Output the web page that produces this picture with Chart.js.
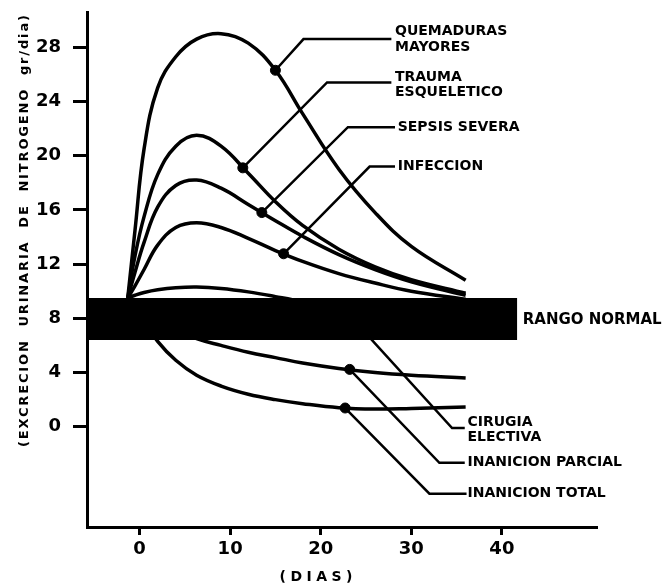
<!DOCTYPE html>
<html>
<head>
<meta charset="utf-8">
<script src="https://cdn.jsdelivr.net/npm/chart.js@4"></script>
<style>
  html, body { margin: 0; padding: 0; background: #fff; }
  #caja { width: 662px; height: 586px; position: relative; }
</style>
</head>
<body>
<div id="caja"><canvas id="grafica"></canvas></div>
<script>
// Datos (dias vs gr/dia)
const dias = [-1.3, -0.5, 0.5, 2, 4, 6.3, 9, 12, 15, 18, 22, 26, 30, 36];
const quemaduras = [9.5, 14.5, 20.5, 25.0, 27.3, 28.6, 29.0, 28.3, 26.3, 23.1, 19.0, 15.8, 13.3, 10.8];
const trauma = [9.5, 12.6, 15.5, 18.6, 20.7, 21.5, 20.7, 18.7, 16.6, 14.85, 13.1, 11.8, 10.85, 9.85];
const sepsis = [9.5, 11.4, 13.6, 16.2, 17.8, 18.2, 17.6, 16.4, 15.2, 14.05, 12.7, 11.6, 10.7, 9.7];
const infeccion = [9.5, 10.4, 11.6, 13.4, 14.7, 15.05, 14.7, 13.9, 13.0, 12.2, 11.3, 10.6, 10.0, 9.4];
const cirugia = [9.5, 9.7, 9.9, 10.1, 10.25, 10.3, 10.2, 9.95, 9.6, 9.2, 8.5, 7.9, 7.6, 7.4];
const inanicionParcial = [9.5, 9.2, 8.7, 8.0, 7.2, 6.5, 6.0, 5.5, 5.1, 4.7, 4.3, 4.0, 3.8, 3.6];
const inanicionTotal = [9.5, 8.8, 7.8, 6.3, 4.9, 3.8, 3.0, 2.4, 2.0, 1.7, 1.4, 1.3, 1.35, 1.45];

// Puntos marcados sobre cada curva
const marcadoresDias = [15.0, 11.4, 13.5, 15.9, 23.0, 23.2, 22.7];
const marcadoresValores = [26.3, 19.1, 15.8, 12.76, 8.35, 4.23, 1.38];

// Rango normal
const bandaDias = [-5.8, 41.7];
const bandaSup = 9.5;
const bandaInf = 6.4;

const ticksY = [0, 4, 8, 12, 16, 20, 24, 28];
const ticksX = [0, 10, 20, 30, 40];

// Lineas guia hacia las etiquetas (marcador -> codo -> texto)
const guias = [
    [[15.0, 26.3], [18.1, 28.6], [27.8, 28.6]],
    [[11.4, 19.1], [20.7, 25.4], [27.8, 25.4]],
    [[13.5, 15.8], [23.0, 22.1], [28.2, 22.1]],
    [[15.9, 12.76], [25.4, 19.2], [28.2, 19.2]],
    [[23.0, 8.35], [34.5, -0.1], [35.9, -0.1]],
    [[23.2, 4.23], [33.1, -2.66], [35.9, -2.66]],
    [[22.7, 1.38], [32.0, -4.94], [36.1, -4.94]],
];

const etiquetas = [
    { texto: ["QUEMADURAS", "MAYORES"], dia: 28.2, valor: 28.6 },
    { texto: ["TRAUMA", "ESQUELETICO"], dia: 28.2, valor: 25.25 },
    { texto: ["SEPSIS SEVERA"], dia: 28.5, valor: 22.1 },
    { texto: ["INFECCION"], dia: 28.5, valor: 19.2 },
    { texto: ["RANGO NORMAL"], dia: 42.3, valor: 7.9 },
    { texto: ["CIRUGIA", "ELECTIVA"], dia: 36.2, valor: -0.22 },
    { texto: ["INANICION PARCIAL"], dia: 36.2, valor: -2.66 },
    { texto: ["INANICION TOTAL"], dia: 36.2, valor: -4.94 },
];

const series = [quemaduras, trauma, sepsis, infeccion, cirugia, inanicionParcial, inanicionTotal];

const datasets = [];

// banda negra (encima de las curvas)
datasets.push({
    data: bandaDias.map((d) => ({ x: d, y: bandaSup })),
    borderWidth: 0,
    pointRadius: 0,
    backgroundColor: "#000",
    fill: { value: bandaInf },
    order: 0,
});

series.forEach((serie) => {
    datasets.push({
        data: dias.map((d, i) => ({ x: d, y: serie[i] })),
        borderColor: "#000",
        borderWidth: 3.5,
        pointRadius: 0,
        tension: 0.4,
        fill: false,
        order: 2,
    });
});

guias.forEach((g) => {
    datasets.push({
        data: g.map((p) => ({ x: p[0], y: p[1] })),
        borderColor: "#000",
        borderWidth: 2.5,
        pointRadius: 0,
        tension: 0,
        fill: false,
        order: 1,
    });
});

datasets.push({
    data: marcadoresDias.map((d, i) => ({ x: d, y: marcadoresValores[i] })),
    showLine: false,
    pointRadius: 5,
    pointBackgroundColor: "#000",
    pointBorderColor: "#000",
    order: 1,
});

// Texto con espaciado para que ocupe un ancho dado
function textoEspaciado(ctx, texto, ancho) {
    ctx.letterSpacing = "0px";
    const natural = ctx.measureText(texto).width;
    const extra = (ancho - natural) / (texto.length - 1);
    ctx.letterSpacing = extra + "px";
    ctx.fillText(texto, -ancho / 2, 0);
    ctx.letterSpacing = "0px";
}

const pluginTextos = {
    id: "textos",
    afterDraw(chart) {
        const ctx = chart.ctx;
        const sx = chart.scales.x;
        const sy = chart.scales.y;
        ctx.save();
        ctx.fillStyle = "#000";
        ctx.textBaseline = "middle";
        ctx.textAlign = "left";
        etiquetas.forEach((e) => {
            const px = sx.getPixelForValue(e.dia);
            const py = sy.getPixelForValue(e.valor);
            ctx.font = e.texto[0] === "RANGO NORMAL" ? 'bold 15px "DejaVu Sans"' : 'bold 14px "DejaVu Sans"';
            if (e.texto.length === 1) {
                ctx.fillText(e.texto[0], px, py);
            } else {
                ctx.fillText(e.texto[0], px, py - 7.5);
                ctx.fillText(e.texto[1], px, py + 8);
            }
        });

        // titulos de los ejes
        ctx.font = 'bold 13px "DejaVu Sans"';
        ctx.save();
        ctx.translate(25, 231);
        ctx.rotate(-Math.PI / 2);
        textoEspaciado(ctx, "(EXCRECION  URINARIA  DE  NITROGENO  gr/dia)", 432);
        ctx.restore();

        ctx.font = 'bold 14px "DejaVu Sans"';
        ctx.save();
        ctx.translate(316, 577);
        textoEspaciado(ctx, "(DIAS)", 73);
        ctx.restore();
        ctx.restore();
    },
};

new Chart(document.getElementById("grafica"), {
    type: "line",
    data: { datasets },
    options: {
        responsive: true,
        maintainAspectRatio: false,
        animation: false,
        layout: { padding: { top: 12, right: 65, left: 0, bottom: 0 } },
        plugins: { legend: { display: false }, tooltip: { enabled: false } },
        scales: {
            x: {
                type: "linear",
                min: -5.8,
                max: 50.5,
                afterBuildTicks: (scale) => {
                    scale.ticks = ticksX.map((v) => ({ value: v }));
                },
                afterFit: (scale) => {
                    scale.height = 59;
                    scale.paddingLeft = 0;
                    scale.paddingRight = 0;
                },
                grid: {
                    drawOnChartArea: false,
                    drawTicks: true,
                    tickLength: 8,
                    tickWidth: 3,
                    tickColor: "#000",
                },
                border: { display: true, width: 3, color: "#000" },
                ticks: {
                    color: "#000",
                    padding: 4,
                    maxRotation: 0,
                    font: { family: "DejaVu Sans", weight: "bold", size: 18 },
                },
            },
            y: {
                min: -7.4,
                max: 30.6,
                afterBuildTicks: (scale) => {
                    scale.ticks = ticksY.map((v) => ({ value: v }));
                },
                afterFit: (scale) => {
                    scale.width = 87;
                    scale.paddingTop = 0;
                    scale.paddingBottom = 0;
                },
                grid: {
                    drawOnChartArea: false,
                    drawTicks: true,
                    tickLength: 14,
                    tickWidth: 3,
                    tickColor: "#000",
                },
                border: { display: true, width: 3, color: "#000" },
                ticks: {
                    color: "#000",
                    padding: 12,
                    font: { family: "DejaVu Sans", weight: "bold", size: 18 },
                },
            },
        },
    },
    plugins: [pluginTextos],
});
</script>
</body>
</html>
